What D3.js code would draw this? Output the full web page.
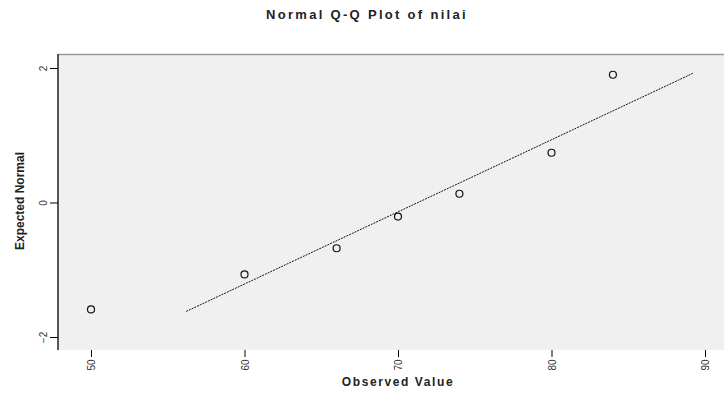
<!DOCTYPE html>
<html>
<head>
<meta charset="utf-8">
<script src="https://cdn.jsdelivr.net/npm/d3@7"></script>
<style>
  body { margin: 0; background: #fff; }
  text { font-family: "Liberation Sans", Arial, sans-serif; }
</style>
</head>
<body>
<script>
let w = 724, h = 394;

// observed values and their expected normal scores
const observed = [50, 60, 66, 70, 74, 80, 84];
const expected = [-1.59, -1.07, -0.68, -0.21, 0.13, 0.74, 1.90];
// reference line end points
const lineX = [56.2, 89.2];
const lineY = [-1.62, 1.92];
const xTicks = [50, 60, 70, 80, 90];
const yTicks = [-2, 0, 2];

const margin = { top: 54, right: 0, bottom: 44, left: 58 };

const svg = d3.select("body").append("svg")
    .attr("width", w).attr("height", h);

// plot background
svg.append("rect")
    .attr("x", margin.left).attr("y", margin.top)
    .attr("width", w - margin.left - margin.right)
    .attr("height", h - margin.top - margin.bottom)
    .attr("fill", "#f0f0f0");

svg.append("line")
    .attr("x1", margin.left).attr("x2", w)
    .attr("y1", margin.top + 0.5).attr("y2", margin.top + 0.5)
    .attr("stroke", "#999").attr("stroke-width", 1.5);

const x = d3.scaleLinear().domain([50, 90]).range([91, 705]);
const y = d3.scaleLinear().domain([-2, 2]).range([337, 68]);

// axes
const yAxis = svg.append("g")
    .attr("transform", `translate(${margin.left},0)`)
    .call(d3.axisLeft(y).tickValues(yTicks).tickSize(8).tickFormat(d3.format("d")));
yAxis.select(".domain").attr("d", `M0,${margin.top}V${h - margin.bottom}`).attr("stroke", "#222").attr("stroke-width", 1.5);
yAxis.selectAll("text")
    .attr("font-size", 10)
    .attr("x", 0).attr("y", 0)
    .attr("transform", "translate(-15,0) rotate(-90)")
    .attr("dy", "0.35em").attr("text-anchor", "middle")
    .attr("fill", "#333");

const xAxis = svg.append("g")
    .attr("transform", `translate(0,${h - margin.bottom})`)
    .call(d3.axisBottom(x).tickValues(xTicks).tickSize(7));
xAxis.select(".domain").remove();
xAxis.selectAll("text")
    .attr("font-size", 10)
    .attr("x", 0).attr("y", 0)
    .attr("transform", "translate(0,15) rotate(-90)")
    .attr("dy", "0.35em").attr("text-anchor", "middle")
    .attr("fill", "#333");

// reference line
svg.append("line")
    .attr("x1", x(lineX[0])).attr("y1", y(lineY[0]))
    .attr("x2", x(lineX[1])).attr("y2", y(lineY[1]))
    .attr("stroke", "#111").attr("stroke-width", 1)
    .attr("stroke-dasharray", "2,1");

// points
svg.selectAll(".pt")
    .data(observed)
    .enter().append("circle")
    .attr("class", "pt")
    .attr("cx", d => x(d))
    .attr("cy", (d, i) => y(expected[i]))
    .attr("r", 3.5)
    .attr("fill", "none")
    .attr("stroke", "#111")
    .attr("stroke-width", 1.2);

// titles
svg.append("text")
    .attr("x", 367).attr("y", 19)
    .attr("text-anchor", "middle")
    .attr("font-size", 13).attr("font-weight", "bold")
    .attr("letter-spacing", "2.3px")
    .attr("fill", "#222")
    .text("Normal Q-Q Plot of nilai");

svg.append("text")
    .attr("x", 398).attr("y", 386)
    .attr("text-anchor", "middle")
    .attr("font-size", 12).attr("font-weight", "bold")
    .attr("fill", "#222")
    .attr("letter-spacing", "1.6px")
    .text("Observed Value");

svg.append("text")
    .attr("transform", "translate(24,201) rotate(-90)")
    .attr("text-anchor", "middle")
    .attr("font-size", 12).attr("font-weight", "bold")
    .attr("font-family", "'Liberation Sans Narrow', 'DejaVu Sans Condensed', sans-serif")
    .attr("fill", "#222")
    .text("Expected Normal");
</script>
</body>
</html>
